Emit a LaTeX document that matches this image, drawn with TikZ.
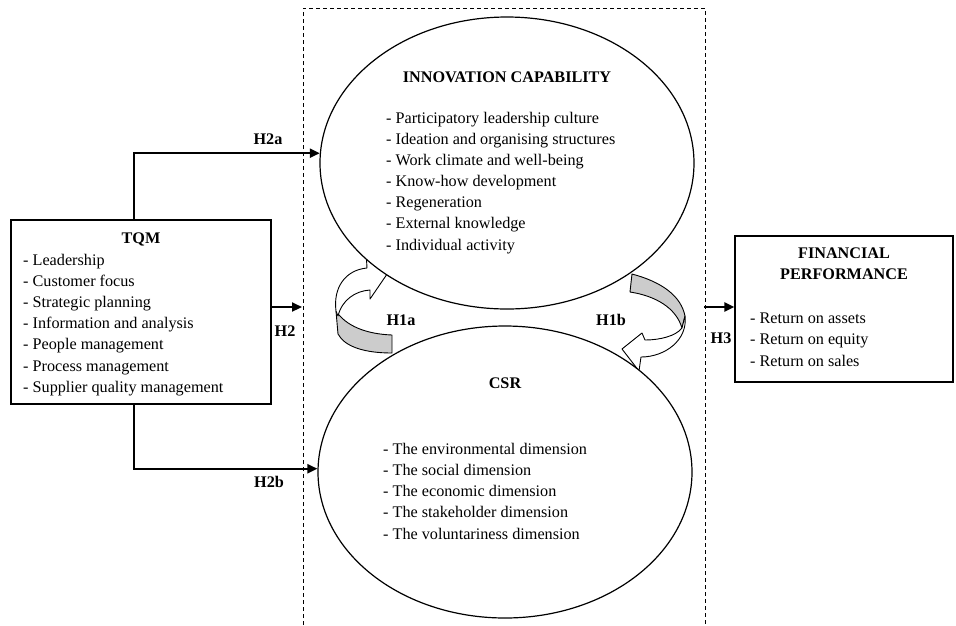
\documentclass[tikz,border=0pt]{standalone}
\usepackage{fontspec}
\setmainfont{Liberation Serif}
\usetikzlibrary{shapes.geometric, arrows.meta}
\tikzset{
  box/.style={draw, line width=1.2pt, inner sep=0},
  oval/.style={draw, ellipse, line width=1.2pt, fill=white, inner sep=0, minimum width=374pt, minimum height=292pt},
  item/.style={font=\fontsize{16.2}{20}\selectfont, inner sep=0, anchor=base west},
  ttl/.style={font=\fontsize{16.2}{20}\selectfont\bfseries, inner sep=0, anchor=base},
  hlab/.style={font=\fontsize{16.2}{20}\selectfont\bfseries, inner sep=0},
  conn/.style={line width=2.2pt, -{Triangle[length=10pt,width=9pt]}},
  frame/.style={line width=1pt, dash pattern=on 4pt off 3pt},
  ribbon/.style={draw, line width=0.9pt, line join=round},
  underside/.style={ribbon, fill=black!20},
  topside/.style={ribbon, fill=white},
}
\begin{document}
\begin{tikzpicture}[x=1pt,y=-1pt]
\useasboundingbox (0,0) rectangle (956,625);
% dashed frame
\draw[frame] (303,625) -- (303,8) -- (705,8) -- (705,625);

% curved arrow H1a (left)
\path[underside] (336,311) -- (338,334) .. controls (345,347) and (365,353) .. (392,353)
  -- (392,335) .. controls (366,334) and (346,326) .. (336,311) -- cycle;
\path[topside] (336,311) .. controls (333,288) and (345,270) .. (367,268)
  -- (366,250) -- (396,261) -- (370,299) -- (370,290)
  .. controls (355,291) and (342,300) .. (338,316) -- cycle;

% curved arrow H1b (right)
\path[underside] (632,274) .. controls (662,282) and (681,296) .. (685,316)
  -- (682,328) .. controls (676,308) and (656,296) .. (630,292) -- cycle;
\path[topside] (685,316) .. controls (688,340) and (665,357) .. (641,357)
  -- (639,371) -- (622,349) -- (642,333) -- (645,340)
  .. controls (660,340) and (676,336) .. (682,328) -- cycle;

% ellipses
\node[oval] (inno) at (507,163) {};
\node[oval] (csr) at (505,472) {};

% boxes
\node[box, minimum width=260pt, minimum height=184pt] (tqm) at (141,312) {};
\node[box, minimum width=218pt, minimum height=146pt] (fin) at (844,309) {};

% connectors
\coordinate (trunk) at (134,0);
\draw[conn] (trunk |- tqm.north) |- (inno.177);
\draw[conn] (trunk |- tqm.south) |- (csr.179);
\coordinate (h2tip) at (302,307);
\draw[conn] (h2tip -| tqm.east) -- (h2tip);
\coordinate (h3tail) at (704,307);
\draw[conn] (h3tail) -- (h3tail -| fin.west);

% labels
\node[hlab] (lh2a) at (268,139) {H2a};
\node[hlab] (lh2b) at (269,482) {H2b};
\node[hlab] (lh2) at (285,331) {H2};
\node[hlab] (lh3) at (721,338) {H3};
\node[hlab] (lh1a) at (401,320) {H1a};
\node[hlab] (lh1b) at (611,320) {H1b};

% TQM text
\node[ttl] (tqmt) at (141,243) {TQM};
\foreach [count=\i] \t in {Leadership, Customer focus, Strategic planning, Information and analysis, People management, Process management, Supplier quality management}
  \node[item] (tqm\i) at (23,{265+21.2*(\i-1)}) {- \t};

% Innovation text
\node[ttl] (innot) at (507,82) {INNOVATION CAPABILITY};
\foreach [count=\i] \t in {Participatory leadership culture, Ideation and organising structures, Work climate and well-being, Know-how development, Regeneration, External knowledge, Individual activity}
  \node[item] (inno\i) at (386,{123+21.17*(\i-1)}) {- \t};

% CSR text
\node[ttl] (csrt) at (505,388) {CSR};
\foreach [count=\i] \t in {The environmental dimension, The social dimension, The economic dimension, The stakeholder dimension, The voluntariness dimension}
  \node[item] (csr\i) at (383,{454+21.25*(\i-1)}) {- \t};

% Financial text
\node[ttl] (fint1) at (844,258) {FINANCIAL};
\node[ttl] (fint2) at (844,279) {PERFORMANCE};
\foreach [count=\i] \t in {Return on assets, Return on equity, Return on sales}
  \node[item] (fin\i) at (750,{323+21.5*(\i-1)}) {- \t};
\end{tikzpicture}
\end{document}
